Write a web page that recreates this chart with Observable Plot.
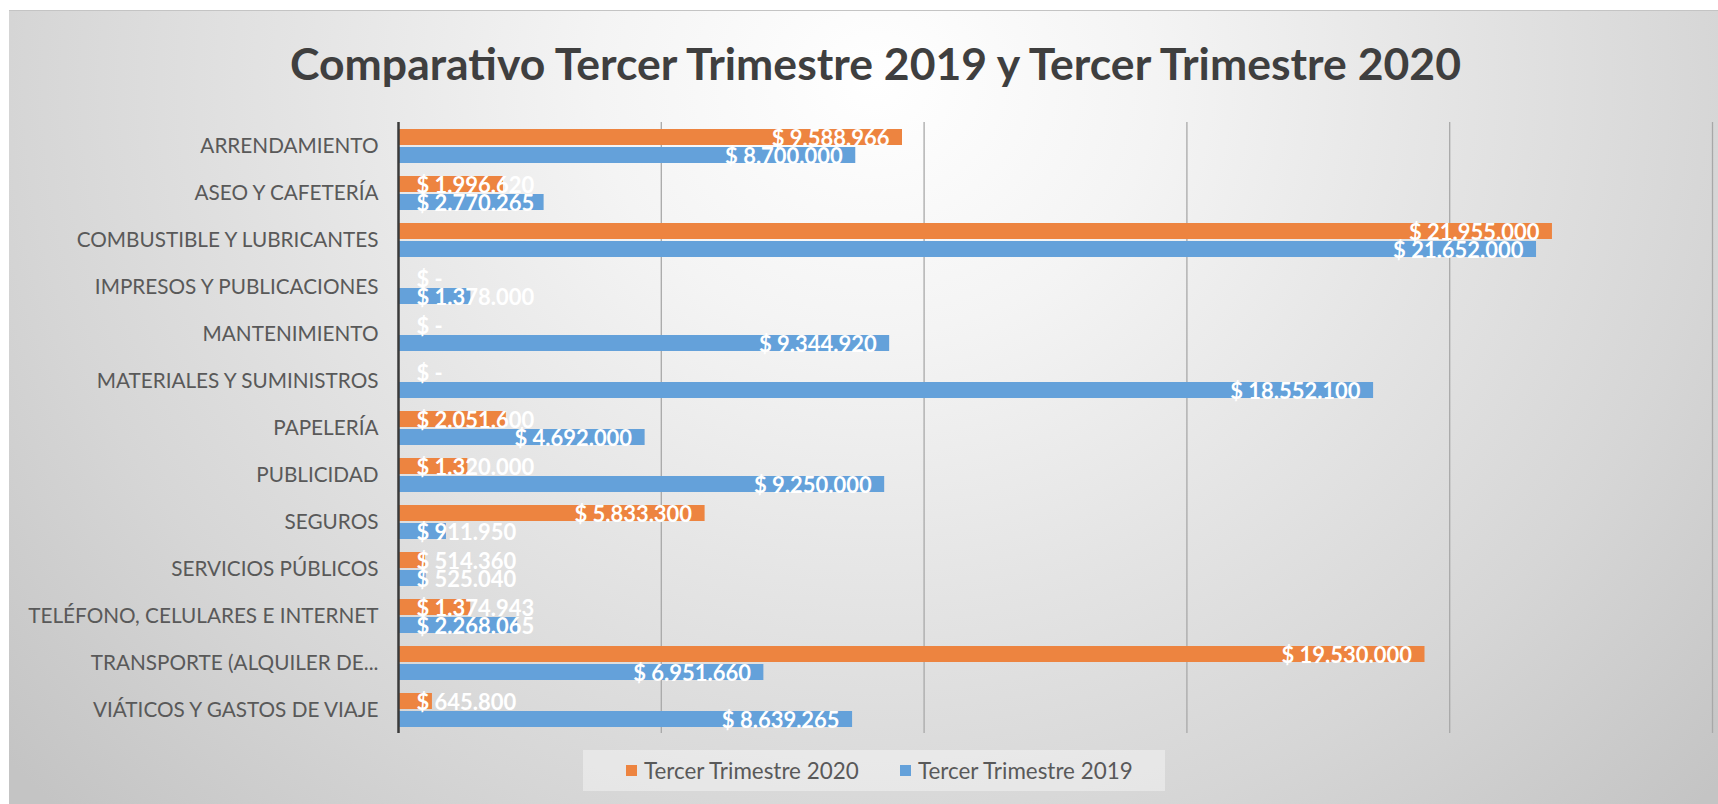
<!DOCTYPE html>
<html>
<head>
<meta charset="utf-8">
<script src="https://cdn.jsdelivr.net/npm/d3@7"></script>
<script src="https://cdn.jsdelivr.net/npm/@observablehq/plot@0.6"></script>
<style>
html, body { margin: 0; padding: 0; background: #ffffff; }
#page { position: relative; width: 1718px; height: 804px; overflow: hidden; font-family: Lato, Carlito, sans-serif; }
#frame { position: absolute; left: 9px; top: 10px; width: 1709px; height: 794px;
  background: radial-gradient(ellipse 1000px 900px at 866px 70px, #ffffff 0%, #f4f4f4 28%, #e4e4e4 58%, #d6d6d6 85%, #c4c4c4 115%);
  border-top: 1px solid #c4c4c4; }
#title { position: absolute; left: 0; top: 0; }
#chart { position: absolute; left: 0; top: 100px; }
#legend { position: absolute; left: 583px; top: 750px; width: 582px; height: 41px; background: rgba(255,255,255,0.38); }
#legend .sw { position: absolute; top: 15px; width: 11px; height: 11px; }
#legend .lt { position: absolute; top: 0; height: 41px; line-height: 41px; color: #595959; white-space: nowrap; }
</style>
</head>
<body>
<div id="page">
  <div id="frame"></div>
  <svg id="title" width="1718" height="100"></svg>
  <div id="chart"></div>
  <div id="legend"></div>
</div>
<script>
const titleText = "Comparativo Tercer Trimestre 2019 y Tercer Trimestre 2020";
const categories = [
  "ARRENDAMIENTO",
  "ASEO Y CAFETERÍA",
  "COMBUSTIBLE Y LUBRICANTES",
  "IMPRESOS Y PUBLICACIONES",
  "MANTENIMIENTO",
  "MATERIALES Y SUMINISTROS",
  "PAPELERÍA",
  "PUBLICIDAD",
  "SEGUROS",
  "SERVICIOS PÚBLICOS",
  "TELÉFONO, CELULARES E INTERNET",
  "TRANSPORTE (ALQUILER DE...",
  "VIÁTICOS Y GASTOS DE VIAJE"
];
const values2020 = [9588966, 1996620, 21955000, 0, 0, 0, 2051600, 1320000, 5833300, 514360, 1374943, 19530000, 645800];
const values2019 = [8700000, 2770265, 21652000, 1378000, 9344920, 18552100, 4692000, 9250000, 911950, 525040, 2268065, 6951660, 8639265];
const seriesNames = ["Tercer Trimestre 2020", "Tercer Trimestre 2019"];
const seriesColors = ["#ED8440", "#64A1DA"];
const gridTicks = [5000000, 10000000, 15000000, 20000000, 25000000];
const xMax = 25000000;

const fmt = v => v === 0 ? "$ -" : "$ " + d3.format(",")(v).replace(/,/g, ".");

const rows = categories.flatMap((c, i) => [
  {category: c, series: seriesNames[0], value: values2020[i]},
  {category: c, series: seriesNames[1], value: values2019[i]}
]);

// text measuring
const ctx = document.createElement("canvas").getContext("2d");
function measure(text, weight, size) {
  ctx.font = `${weight} ${size}px Lato, Carlito, sans-serif`;
  return ctx.measureText(text).width;
}
const labelSize = 40 * 130.5 / measure("$ 21.955.000", 700, 40);
const catSize = 40 * 303.5 / measure("COMBUSTIBLE Y LUBRICANTES", 400, 40);
const legendSize = 40 * 216 / measure("Tercer Trimestre 2020", 400, 40);

// title (condensed to the reference's width)
const tsvg = d3.select("#title");
tsvg.append("text")
  .attr("x", 290).attr("y", 80)
  .attr("font-family", "Lato, Carlito, sans-serif")
  .attr("font-weight", 700)
  .attr("font-size", 43)
  .attr("textLength", 1171)
  .attr("lengthAdjust", "spacingAndGlyphs")
  .attr("fill", "#3f3f3f")
  .text(titleText);

// chart
const W = 1718, H = 645, mL = 398, mR = 6, mT = 20, mB = 10;
const k = (W - mL - mR) / xMax;
const padR = 13, padL = 18;
rows.forEach(d => {
  d.label = fmt(d.value);
  const w = measure(d.label, 700, labelSize);
  d.inside = d.value * k - padR - w >= padL;
});

const chart = Plot.plot({
  width: W, height: H,
  marginLeft: mL, marginRight: mR, marginTop: mT, marginBottom: mB,
  style: {background: "transparent", fontFamily: "Lato, Carlito, sans-serif", overflow: "visible"},
  x: {domain: [0, xMax], axis: null},
  y: {domain: seriesNames, axis: null, paddingInner: 0.12, paddingOuter: 0.32},
  fy: {domain: categories, padding: 0, axis: null, label: null},
  color: {domain: seriesNames, range: seriesColors},
  marks: [
    Plot.ruleX(gridTicks, {stroke: "#a8a8a8", strokeWidth: 1.3}),
    Plot.barX(rows, {x: "value", y: "series", fy: "category", fill: "series"}),
    Plot.ruleX([0], {stroke: "#3a3a3a", strokeWidth: 2.5}),
    Plot.text(rows.filter(d => d.inside), {
      x: "value", y: "series", fy: "category", text: "label",
      textAnchor: "end", dx: -padR, dy: 1, fill: "white", fontWeight: 700, fontSize: labelSize
    }),
    Plot.text(rows.filter(d => !d.inside), {
      x: () => 0, y: "series", fy: "category", text: "label",
      textAnchor: "start", dx: padL, dy: 1, fill: "white", fontWeight: 700, fontSize: labelSize
    }),
    Plot.axisFy({anchor: "left", tickSize: 0, tickPadding: 20, fontSize: catSize, color: "#595959", label: null})
  ]
});
document.getElementById("chart").appendChild(chart);

// legend
const legend = d3.select("#legend");
const swX = [43, 317], txX = [61, 335];
seriesNames.forEach((s, i) => {
  legend.append("div").attr("class", "sw").style("left", swX[i] + "px").style("background", seriesColors[i]);
  legend.append("div").attr("class", "lt").style("left", txX[i] + "px").style("font-size", legendSize + "px").text(s);
});
</script>
</body>
</html>
